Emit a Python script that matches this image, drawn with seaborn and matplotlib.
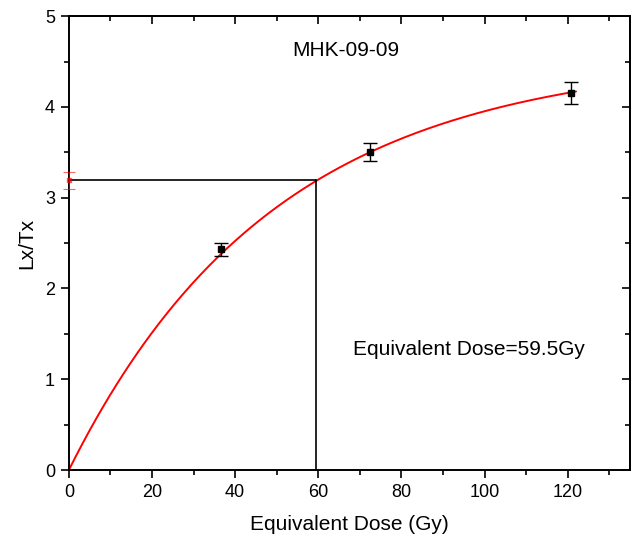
import numpy as np
import matplotlib
matplotlib.use("Agg")
import matplotlib.pyplot as plt
import seaborn as sns
from matplotlib.ticker import MultipleLocator

# regenerated dose points (Gy) and sensitivity-corrected signal
dose = [36.5, 72.5, 120.8]
lxtx = [2.43, 3.50, 4.15]
lxtx_err = [0.07, 0.10, 0.12]

# natural signal
nat_lxtx = 3.19
nat_err = 0.09
de = 59.5

# saturating exponential fit y = A * (1 - exp(-x / D0))
fit_A = 4.56
fit_D0 = 49.6

sns.set_theme(style="ticks", rc={"text.color": "black", "axes.labelcolor": "black",
                                 "xtick.color": "black", "ytick.color": "black"})
plt.rcParams['font.family'] = ['Liberation Sans', 'DejaVu Sans']

fig = plt.figure(figsize=(6.32, 5.39), dpi=100)
ax = fig.add_axes([0.109, 0.128, 0.888, 0.842])

x_fit = np.linspace(0, 122, 300)
sns.lineplot(x=x_fit, y=fit_A * (1 - np.exp(-x_fit / fit_D0)), ax=ax, color="red", lw=1.4)

ax.errorbar(dose, lxtx, yerr=lxtx_err, fmt="s", color="black", ms=4, capsize=5,
            elinewidth=1, capthick=1, zorder=5)
ax.errorbar([0], [nat_lxtx], yerr=[nat_err], fmt="s", color="red", ms=3, capsize=4,
            elinewidth=0.8, capthick=0.8, alpha=0.6, clip_on=False, zorder=6)

ax.plot([0, de], [nat_lxtx, nat_lxtx], color="black", lw=1.2)
ax.plot([de, de], [nat_lxtx, 0], color="black", lw=1.2)

ax.set_xlim(0, 135)
ax.set_ylim(0, 5)
ax.xaxis.set_major_locator(MultipleLocator(20))
ax.xaxis.set_minor_locator(MultipleLocator(10))
ax.yaxis.set_major_locator(MultipleLocator(1))
ax.yaxis.set_minor_locator(MultipleLocator(0.5))
ax.tick_params(which="major", direction="out", length=6, width=1.2, labelsize=13, pad=4)
ax.tick_params(which="minor", direction="out", length=3.5, width=1.2)

for side in ["top", "right"]:
    sec = ax.secondary_xaxis("top") if side == "top" else ax.secondary_yaxis("right")
    axis = sec.xaxis if side == "top" else sec.yaxis
    axis.set_major_locator(MultipleLocator(20 if side == "top" else 1))
    axis.set_minor_locator(MultipleLocator(10 if side == "top" else 0.5))
    sec.tick_params(which="major", direction="in", length=6, width=1.2, labelsize=0)
    sec.tick_params(which="minor", direction="in", length=3.5, width=1.2)
    axis.set_ticklabels([])
    for s in sec.spines.values():
        s.set_linewidth(1.4)

for s in ax.spines.values():
    s.set_visible(True)
    s.set_linewidth(1.4)
    s.set_color("black")

ax.set_xlabel("Equivalent Dose (Gy)", fontsize=15, labelpad=10)
ax.set_ylabel("Lx/Tx", fontsize=15, labelpad=6)
ax.text(0.494, 0.925, "MHK-09-09", transform=ax.transAxes, ha="center", va="center", fontsize=15)
ax.text(0.713, 0.265, "Equivalent Dose=59.5Gy", transform=ax.transAxes, ha="center", va="center",
        fontsize=15)

fig.savefig("out.png", dpi=100)
